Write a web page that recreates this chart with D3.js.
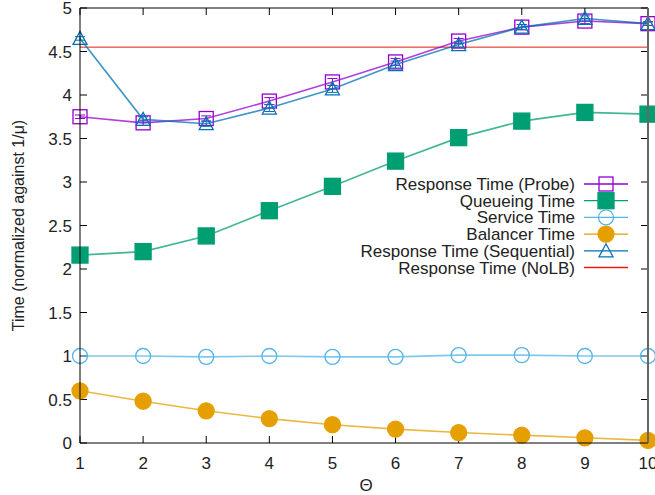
<!DOCTYPE html>
<html><head><meta charset="utf-8">
<script src="https://cdn.jsdelivr.net/npm/d3@7"></script>
<style>body{margin:0;background:#fff}svg{display:block}text{font-family:"Liberation Sans",Arial,sans-serif}</style>
</head><body><svg id="c" width="655" height="495"></svg>
<script>
const theta = [1,2,3,4,5,6,7,8,9,10];
const probe = [3.75,3.68,3.73,3.93,4.15,4.38,4.62,4.78,4.85,4.82];
const probeErr = [0.02,0.03,0.03,0.04,0.04,0.04,0.03,0.03,0.03,0.02];
const queueing = [2.16,2.20,2.38,2.67,2.95,3.24,3.51,3.70,3.80,3.78];
const service = [1.00,1.00,0.99,1.00,0.99,0.99,1.01,1.01,1.00,1.00];
const balancer = [0.60,0.48,0.37,0.28,0.21,0.16,0.12,0.09,0.06,0.03];
const sequential = [4.65,3.72,3.67,3.85,4.07,4.35,4.58,4.78,4.88,4.82];
const seqErr = [0.02,0.03,0.03,0.04,0.04,0.04,0.03,0.03,0.03,0.02];
const noLB = 4.55;
const yTicks = [0,0.5,1,1.5,2,2.5,3,3.5,4,4.5,5];
const xTicks = [1,2,3,4,5,6,7,8,9,10];

const svg = d3.select("#c");
const L=80,R=648,T=8,B=443;
const x = d3.scaleLinear().domain([1,10]).range([L,R]);
const y = d3.scaleLinear().domain([0,5]).range([B,T]);
const FS=17;

const g = svg.append("g");
xTicks.forEach(t=>{
  g.append("line").attr("x1",x(t)).attr("x2",x(t)).attr("y1",B).attr("y2",B-7).attr("stroke","#000");
  g.append("line").attr("x1",x(t)).attr("x2",x(t)).attr("y1",T).attr("y2",T+7).attr("stroke","#000");
  g.append("text").attr("x",x(t)).attr("y",B+26).attr("text-anchor","middle").attr("font-size",FS).attr("fill","#222").text(t);
});
yTicks.forEach(t=>{
  g.append("line").attr("x1",L).attr("x2",L+7).attr("y1",y(t)).attr("y2",y(t)).attr("stroke","#000");
  g.append("line").attr("x1",R).attr("x2",R-7).attr("y1",y(t)).attr("y2",y(t)).attr("stroke","#000");
  g.append("text").attr("x",L-8).attr("y",y(t)+6).attr("text-anchor","end").attr("font-size",FS).attr("fill","#222").text(t);
});
svg.append("text").attr("transform",`translate(24,${(T+B)/2}) rotate(-90)`).attr("text-anchor","middle").attr("font-size",16).attr("fill","#222").text("Time (normalized against 1/μ)");
svg.append("text").attr("x",366).attr("y",491).attr("text-anchor","middle").attr("font-size",FS).attr("fill","#222").text("Θ");

svg.append("line").attr("x1",L).attr("x2",R).attr("y1",y(noLB)).attr("y2",y(noLB)).attr("stroke","#e51e10").attr("stroke-width",1);

const line = d3.line().x((d,i)=>x(theta[i])).y(d=>y(d));
const series = [
  {data:service,c:"#56b4e9",m:"circle",fill:false},
  {data:balancer,c:"#e69f00",m:"circle",fill:true},
  {data:queueing,c:"#009e73",m:"square",fill:true},
  {data:probe,c:"#9400d3",m:"square",fill:false,err:probeErr},
  {data:sequential,c:"#0072b2",m:"tri",fill:false,err:seqErr},
];
function marker(sel,m,c,fill,cx,cy){
  let e;
  if(m==="circle") e=sel.append("circle").attr("cx",cx).attr("cy",cy).attr("r",fill?8:7.5);
  else if(m==="square"){const s=fill?16:14; e=sel.append("rect").attr("x",cx-s/2).attr("y",cy-s/2).attr("width",s).attr("height",s);}
  else e=sel.append("path").attr("d",`M${cx-7},${cy+6}L${cx+7},${cy+6}L${cx},${cy-7}Z`);
  e.attr("fill",fill?c:"none").attr("stroke",c).attr("stroke-width",1.3);
}
series.forEach(s=>{
  svg.append("path").attr("d",line(s.data)).attr("fill","none").attr("stroke",s.c).attr("stroke-width",1.6).attr("stroke-opacity",0.75);
  s.data.forEach((v,i)=>{
    if(s.err){
      const cx=x(theta[i]);
      svg.append("line").attr("x1",cx).attr("x2",cx).attr("y1",y(v-s.err[i])).attr("y2",y(v+s.err[i])).attr("stroke",s.c);
      [v-s.err[i],v+s.err[i]].forEach(w=>svg.append("line").attr("x1",cx-5).attr("x2",cx+5).attr("y1",y(w)).attr("y2",y(w)).attr("stroke",s.c));
    }
    marker(svg,s.m,s.c,s.fill,x(theta[i]),y(v));
  });
});

svg.append("line").attr("x1",L).attr("x2",R).attr("y1",T).attr("y2",T).attr("stroke","#000");
svg.append("line").attr("x1",L).attr("x2",R).attr("y1",B).attr("y2",B).attr("stroke","#000");
svg.append("line").attr("x1",L).attr("x2",L).attr("y1",T).attr("y2",B).attr("stroke","#000");
svg.append("line").attr("x1",R).attr("x2",R).attr("y1",T).attr("y2",B).attr("stroke","#666").attr("stroke-width",2);

const legend = [
  {t:"Response Time (Probe)",c:"#9400d3",m:"square",fill:false},
  {t:"Queueing Time",c:"#009e73",m:"square",fill:true},
  {t:"Service Time",c:"#56b4e9",m:"circle",fill:false},
  {t:"Balancer Time",c:"#e69f00",m:"circle",fill:true},
  {t:"Response Time (Sequential)",c:"#0072b2",m:"tri",fill:false},
  {t:"Response Time (NoLB)",c:"#e51e10",m:null},
];
legend.forEach((d,i)=>{
  const yy=184+i*16.7;
  svg.append("text").attr("x",575).attr("y",yy+6).attr("text-anchor","end").attr("font-size",FS).attr("fill","#222").text(d.t);
  svg.append("line").attr("x1",584).attr("x2",628).attr("y1",yy).attr("y2",yy).attr("stroke",d.c).attr("stroke-width",1.3);
  if(d.m) marker(svg,d.m,d.c,d.fill,606,yy);
});
</script></body></html>
